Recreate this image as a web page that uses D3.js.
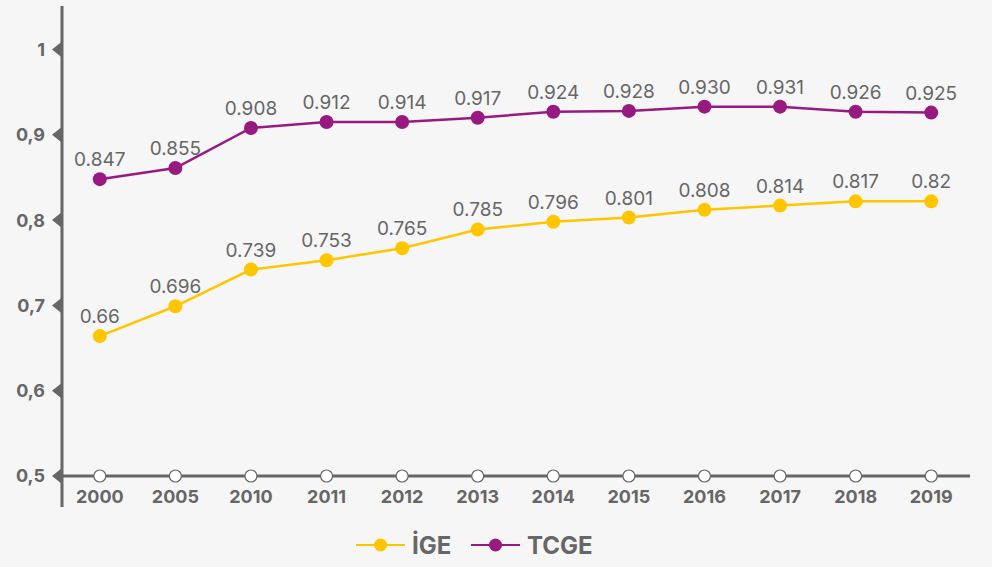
<!DOCTYPE html>
<html>
<head>
<meta charset="utf-8">
<script src="https://cdn.jsdelivr.net/npm/d3@7"></script>
<style>
  body { margin: 0; background: #f6f6f6; }
  svg { display: block; font-family: Inter, "Noto Sans", sans-serif; }
</style>
</head>
<body>
<svg id="chart" width="992" height="567"></svg>
<script>
var years = ['2000', '2005', '2010', '2011', '2012', '2013', '2014', '2015', '2016', '2017', '2018', '2019'];
// positions as drawn in the picture (slightly off from the printed labels)
var ige = [0.664, 0.699, 0.742, 0.753, 0.767, 0.789, 0.798, 0.803, 0.812, 0.817, 0.822, 0.822];
var tcge = [0.848, 0.861, 0.908, 0.915, 0.915, 0.920, 0.927, 0.928, 0.933, 0.933, 0.927, 0.926];
// printed labels
var igeLabels = ['0.66', '0.696', '0.739', '0.753', '0.765', '0.785', '0.796', '0.801', '0.808', '0.814', '0.817', '0.82'];
var tcgeLabels = ['0.847', '0.855', '0.908', '0.912', '0.914', '0.917', '0.924', '0.928', '0.930', '0.931', '0.926', '0.925'];
var yTicks = [0.5, 0.6, 0.7, 0.8, 0.9, 1];

var series = [
  { name: 'İGE', values: ige, color: '#ffc600', labels: igeLabels },
  { name: 'TCGE', values: tcge, color: '#981a80', labels: tcgeLabels }
];

var svg = d3.select('#chart');
var grey = '#666';

var x = d3.scalePoint().domain(years).range([62, 969]).padding(0.5);
var y = d3.scaleLinear().domain([0.5, 1]).range([476, 49.5]);

// y axis line
svg.append('line')
  .attr('x1', 62).attr('x2', 62)
  .attr('y1', 6).attr('y2', 507)
  .attr('stroke', grey).attr('stroke-width', 3);

// x axis line
svg.append('line')
  .attr('x1', 62).attr('x2', 970)
  .attr('y1', y(0.5)).attr('y2', y(0.5))
  .attr('stroke', grey).attr('stroke-width', 3);

// y ticks: little triangles + labels
var fmt = function(v) { return String(v).replace('.', ','); };
var yt = svg.append('g').selectAll('g').data(yTicks).enter().append('g')
  .attr('transform', function(d) { return 'translate(0,' + y(d) + ')'; });
yt.append('path')
  .attr('d', 'M52,0 L62,-8 L62,8 Z')
  .attr('fill', grey);
yt.append('text')
  .attr('x', 45).attr('dy', '0.36em')
  .attr('text-anchor', 'end')
  .attr('font-size', 18).attr('font-weight', 700)
  .attr('fill', grey)
  .text(fmt);

// x ticks: white circles on axis + labels
var xt = svg.append('g').selectAll('g').data(years).enter().append('g')
  .attr('transform', function(d) { return 'translate(' + x(d) + ',' + y(0.5) + ')'; });
xt.append('circle')
  .attr('r', 6)
  .attr('fill', '#fff').attr('stroke', grey).attr('stroke-width', 1.2);
xt.append('text')
  .attr('y', 27)
  .attr('text-anchor', 'middle')
  .attr('font-size', 18).attr('font-weight', 700)
  .attr('fill', grey)
  .text(function(d) { return d; });

// lines
var line = d3.line()
  .x(function(d, i) { return x(years[i]); })
  .y(function(d) { return y(d); });

series.forEach(function(s) {
  var g = svg.append('g');
  g.append('path')
    .datum(s.values)
    .attr('d', line)
    .attr('fill', 'none')
    .attr('stroke', s.color)
    .attr('stroke-width', 2.5);
  g.selectAll('circle').data(s.values).enter().append('circle')
    .attr('cx', function(d, i) { return x(years[i]); })
    .attr('cy', function(d) { return y(d); })
    .attr('r', 7)
    .attr('fill', s.color);
  g.selectAll('text').data(s.values).enter().append('text')
    .attr('x', function(d, i) { return x(years[i]); })
    .attr('y', function(d) { return y(d) - 13; })
    .attr('text-anchor', 'middle')
    .attr('font-size', 19)
    .attr('fill', grey)
    .text(function(d, i) { return s.labels[i]; });
});

// legend
var legendX = [356, 471];
var lg = svg.append('g').selectAll('g').data(series).enter().append('g')
  .attr('transform', function(d, i) { return 'translate(' + legendX[i] + ',545)'; });
lg.append('line')
  .attr('x1', 0).attr('x2', 49)
  .attr('stroke', function(d) { return d.color; })
  .attr('stroke-width', 2);
lg.append('circle')
  .attr('cx', 24.5).attr('r', 6.5)
  .attr('fill', function(d) { return d.color; });
lg.append('text')
  .attr('x', 56).attr('dy', '0.36em')
  .attr('font-size', 24).attr('font-weight', 700)
  .attr('fill', grey)
  .text(function(d) { return d.name; });
</script>
</body>
</html>
